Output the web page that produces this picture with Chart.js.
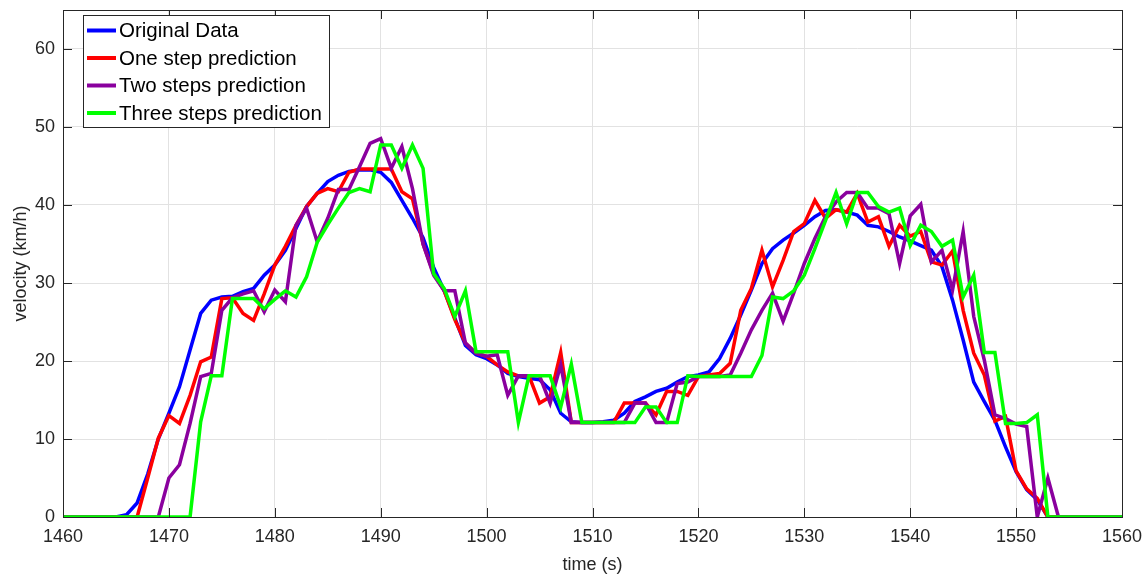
<!DOCTYPE html>
<html>
<head>
<meta charset="utf-8">
<script src="https://cdn.jsdelivr.net/npm/chart.js@4.4.1/dist/chart.umd.min.js"></script>
<style>
  html, body { margin: 0; padding: 0; background: #fff; }
  #wrap { width: 1147px; height: 578px; }
</style>
</head>
<body>
<div id="wrap"><canvas id="myChart" width="1147" height="578"></canvas></div>
<script>
// time axis, one sample per second
const tStart = 1460;
const tEnd = 1560;
const xTicks = [1460, 1470, 1480, 1490, 1500, 1510, 1520, 1530, 1540, 1550, 1560];
const yTicks = [0, 10, 20, 30, 40, 50, 60];

const seriesNames = ["Original Data", "One step prediction", "Two steps prediction", "Three steps prediction"];
const seriesColors = ["#0000ff", "#ff0000", "#8a009e", "#00ff00"];

// velocity (km/h), 1460 .. 1560
const original = [
  0, 0, 0, 0, 0, 0, 0.3, 1.8, 5.5, 10,
  13.3, 16.7, 21.4, 26.1, 27.8, 28.2, 28.3, 28.9, 29.3, 31,
  32.3, 34.2, 37, 39.8, 41.5, 43, 43.8, 44.3, 44.5, 44.5,
  44.2, 42.9, 40.6, 38.3, 35.8, 32, 29, 25.5, 22, 20.8,
  20.3, 19.5, 18.4, 18, 17.8, 17.6, 16.3, 13.3, 12.2, 12.1,
  12.1, 12.2, 12.4, 13.3, 14.8, 15.4, 16.1, 16.5, 17.3, 18,
  18.2, 18.6, 20.3, 22.9, 25.9, 29.1, 32.5, 34.4, 35.5, 36.4,
  37.4, 38.5, 39.3, 39.4, 39.1, 38.7, 37.4, 37.2, 36.6, 35.9,
  35.4, 34.8, 34.2, 32.1, 27.8, 22.7, 17.3, 14.8, 12.4, 9,
  5.8, 3.5, 2.2, 0, 0, 0, 0, 0, 0, 0,
  0
];
const oneStep = [
  0, 0, 0, 0, 0, 0, 0, 0, 5, 10.1,
  13, 12, 15.6, 19.9, 20.5, 28, 28.1, 26.1, 25.2, 28.6,
  32.3, 34.7, 37.4, 39.8, 41.5, 42.1, 41.7, 44.2, 44.6, 44.6,
  44.6, 44.6, 41.7, 40.8, 35, 31.2, 29, 25.3, 22.3, 21,
  20.6, 19.5, 18.6, 18.1, 18.1, 14.6, 15.4, 21.1, 12.1, 12.1,
  12.1, 12.1, 12.1, 14.6, 14.6, 14.6, 13.1, 16.1, 16.1, 15.6,
  18, 18.2, 18.4, 19.7, 26.5, 29.3, 34.2, 29.5, 32.9, 36.6,
  37.6, 40.6, 38.3, 39.4, 39.1, 41.5, 37.8, 38.5, 34.7, 37.4,
  36, 36.6, 32.7, 32.3, 34.1, 26.5, 21, 18.2, 12.3, 12.9,
  5.9, 3.6, 2.4, 0, 0, 0, 0, 0, 0, 0,
  0
];
const twoSteps = [
  0, 0, 0, 0, 0, 0, 0, 0, 0, 0,
  5, 6.7, 12, 18, 18.4, 26.5, 28.1, 28.6, 29, 26.3,
  29.1, 27.6, 37.4, 39.6, 35.3, 38.3, 42, 42, 44.9, 47.9,
  48.5, 44.7, 47.5, 42.1, 35, 31, 29, 29, 22.3, 21,
  20.6, 20.8, 15.6, 18.1, 18.1, 18.1, 14.6, 19.5, 12.1, 12.1,
  12.1, 12.1, 12.1, 12.1, 14.6, 14.6, 12.1, 12.1, 17.1, 17.3,
  18, 18, 18, 18.2, 21, 24, 26.5, 28.7, 25.1, 28.7,
  32.5, 35.7, 38.5, 40.4, 41.6, 41.6, 39.6, 39.6, 38.9, 32.5,
  38.6, 40.1, 32.7, 34.2, 29.1, 36.6, 25.7, 20.1, 13.1, 12.6,
  11.9, 11.6, 0, 5, 0, 0, 0, 0, 0, 0,
  0
];
const threeSteps = [
  0, 0, 0, 0, 0, 0, 0, 0, 0, 0,
  0, 0, 0, 12.2, 18.1, 18.1, 28, 28, 28, 26.7,
  27.9, 29, 28.2, 30.8, 35.2, 37.5, 39.6, 41.6, 42.1, 41.7,
  47.7, 47.7, 44.7, 47.7, 44.7, 31.2, 29.3, 25.7, 29, 21.2,
  21.2, 21.2, 21.2, 12.1, 18.1, 18.1, 18.1, 14.1, 19.6, 12.1,
  12.1, 12.1, 12.1, 12.1, 12.1, 14.1, 14.1, 12.1, 12.1, 18.1,
  18, 18, 18, 18, 18, 18, 20.7, 28.2, 28, 29,
  31, 34.4, 38, 41.6, 37.6, 41.6, 41.6, 39.8, 39.1, 39.6,
  34.8, 37.4, 36.6, 34.7, 35.5, 28.2, 31, 21.1, 21.1, 12,
  12, 12.1, 13.1, 0, 0, 0, 0, 0, 0, 0,
  0
];

const seriesValues = [original, oneStep, twoSteps, threeSteps];

const FONT = "'Liberation Sans', Arial, Helvetica, sans-serif";
const INK = "#262626";

function toPoints(values) {
  return values.map((v, i) => ({ x: tStart + i, y: v }));
}

// box around the axes with inward tick marks on all four sides
const axesBox = {
  id: "axesBox",
  afterDatasetsDraw(chart) {
    const { ctx, chartArea: a, scales } = chart;
    const len = 9;
    ctx.save();
    ctx.strokeStyle = INK;
    ctx.lineWidth = 1;
    ctx.beginPath();
    xTicks.forEach((t) => {
      const px = Math.round(scales.x.getPixelForValue(t)) + 0.5;
      ctx.moveTo(px, a.bottom);
      ctx.lineTo(px, a.bottom - len);
      ctx.moveTo(px, a.top);
      ctx.lineTo(px, a.top + len);
    });
    yTicks.forEach((t) => {
      const py = Math.round(scales.y.getPixelForValue(t)) + 0.5;
      ctx.moveTo(a.left, py);
      ctx.lineTo(a.left + len, py);
      ctx.moveTo(a.right, py);
      ctx.lineTo(a.right - len, py);
    });
    ctx.stroke();
    ctx.strokeRect(Math.round(a.left) + 0.5, Math.round(a.top) + 0.5,
      Math.round(a.right - a.left), Math.round(a.bottom - a.top));
    ctx.restore();
  },
};

// legend drawn inside the plot, top left
const boxLegend = {
  id: "boxLegend",
  afterDraw(chart) {
    const { ctx, chartArea: a } = chart;
    const x0 = a.left + 20;
    const y0 = a.top + 5;
    const rowH = 27.5;
    ctx.save();
    ctx.font = "20.5px " + FONT;
    const textW = Math.max(...seriesNames.map((n) => ctx.measureText(n).width));
    const w = 36 + textW + 7;
    const h = rowH * seriesNames.length + 2;
    ctx.fillStyle = "#fff";
    ctx.fillRect(x0, y0, w, h);
    ctx.strokeStyle = INK;
    ctx.lineWidth = 1;
    ctx.strokeRect(Math.round(x0) + 0.5, Math.round(y0) + 0.5, Math.round(w), Math.round(h));
    seriesNames.forEach((name, i) => {
      const cy = y0 + 15.5 + i * rowH;
      ctx.strokeStyle = seriesColors[i];
      ctx.lineWidth = 4;
      ctx.beginPath();
      ctx.moveTo(x0 + 4, cy);
      ctx.lineTo(x0 + 33, cy);
      ctx.stroke();
      ctx.fillStyle = "#000";
      ctx.textBaseline = "middle";
      ctx.fillText(name, x0 + 36, cy + 1);
    });
    ctx.restore();
  },
};

const ctx = document.getElementById("myChart");

new Chart(ctx, {
  type: "line",
  data: {
    datasets: seriesValues.map((vals, i) => ({
      label: seriesNames[i],
      data: toPoints(vals),
      borderColor: seriesColors[i],
      backgroundColor: seriesColors[i],
      borderWidth: 3.5,
      pointRadius: 0,
      tension: 0,
      fill: false,
      order: seriesValues.length - 1 - i,
    })),
  },
  options: {
    responsive: false,
    animation: false,
    devicePixelRatio: 1,
    layout: { padding: { top: 10, right: 25, left: 0, bottom: 0 } },
    plugins: {
      legend: { display: false },
      tooltip: { enabled: false },
    },
    scales: {
      x: {
        type: "linear",
        min: tStart,
        max: tEnd,
        afterBuildTicks: (s) => { s.ticks = xTicks.map((v) => ({ value: v })); },
        afterFit: (s) => {
          s.height = 61;
          s.paddingLeft = 0;
          s.paddingRight = 0;
        },
        grid: { color: "#e2e2e2", lineWidth: 1, drawTicks: false },
        border: { display: false },
        ticks: {
          color: INK,
          padding: 9,
          maxRotation: 0,
          font: { family: FONT, size: 18 },
          callback: (v) => String(v),
        },
        title: {
          display: true,
          text: "time (s)",
          color: INK,
          font: { family: FONT, size: 18 },
          padding: { top: 0, bottom: 2 },
        },
      },
      y: {
        min: 0,
        max: 65,
        afterBuildTicks: (s) => { s.ticks = yTicks.map((v) => ({ value: v })); },
        afterFit: (s) => {
          s.width = 63;
          s.paddingTop = 0;
          s.paddingBottom = 0;
        },
        grid: { color: "#e2e2e2", lineWidth: 1, drawTicks: false },
        border: { display: false },
        ticks: {
          color: INK,
          padding: 8,
          font: { family: FONT, size: 18 },
          callback: (v) => String(v),
        },
        title: {
          display: true,
          text: "velocity (km/h)",
          color: INK,
          font: { family: FONT, size: 18 },
          padding: { top: 10, bottom: 0 },
        },
      },
    },
  },
  plugins: [axesBox, boxLegend],
});
</script>
</body>
</html>
